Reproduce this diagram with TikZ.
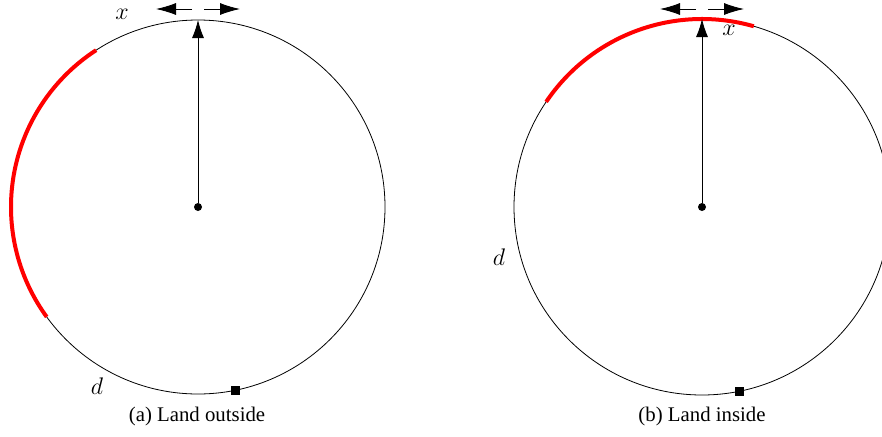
\documentclass[tikz,border=0pt]{standalone}
\usepackage{fontspec}
\setmainfont{Liberation Serif}
\usetikzlibrary{arrows.meta,calc}

\begin{document}
\begin{tikzpicture}[x=0.5pt, y=0.5pt,
		dot/.style={circle, fill, inner sep=0pt, minimum size=4pt},
		marker/.style={rectangle, fill, inner sep=0pt, minimum size=4.5pt},
		radial/.style={-{Latex[length=9pt, width=6pt]}},
		shift arrow/.style={-{Latex[length=10pt, width=6pt]}},
		land/.style={red, line width=2pt},
		lbl/.style={font=\large},
		caption/.style={font=\fontsize{10.4}{12}\selectfont}]
			\clip (0,0) rectangle (882,436);
			
			% (a) land outside
			\node[dot] (c1) at (198,229) {};
			\coordinate (t1) at (198,416);
			\coordinate (m1) at (198,427);
			\draw[thin] (c1.center) circle[radius=187];
			\draw[land] (c1.center) ++(123:187) arc[start angle=123, end angle=216, radius=187];
			\node[marker] (s1) at ($(c1.center)+(-78.5:187)$) {};
			\draw[radial] (c1) to (t1);
			\draw[shift arrow] ([xshift=-3]m1) to ++(-36,0);
			\draw[shift arrow] ([xshift=3]m1) to ++(36,0);
			\node[lbl] at (122,422) {$x$};
			\node[lbl] at (97,50) {$d$};
			\node[caption] at (197,20) {(a) Land outside};
			
			% (b) land inside
			\node[dot] (c2) at (702,229) {};
			\coordinate (t2) at (702,417);
			\coordinate (m2) at (702,427);
			\draw[thin] (c2.center) circle[radius=188];
			\draw[land] (c2.center) ++(74:188) arc[start angle=74, end angle=146, radius=188];
			\node[marker] (s2) at ($(c2.center)+(-78.5:188)$) {};
			\draw[radial] (c2) to (t2);
			\draw[shift arrow] ([xshift=-3]m2) to ++(-36,0);
			\draw[shift arrow] ([xshift=3]m2) to ++(36,0);
			\node[lbl] at (729,406) {$x$};
			\node[lbl] at (499,179) {$d$};
			\node[caption] at (702,20) {(b) Land inside};
		\end{tikzpicture}
\end{document}
